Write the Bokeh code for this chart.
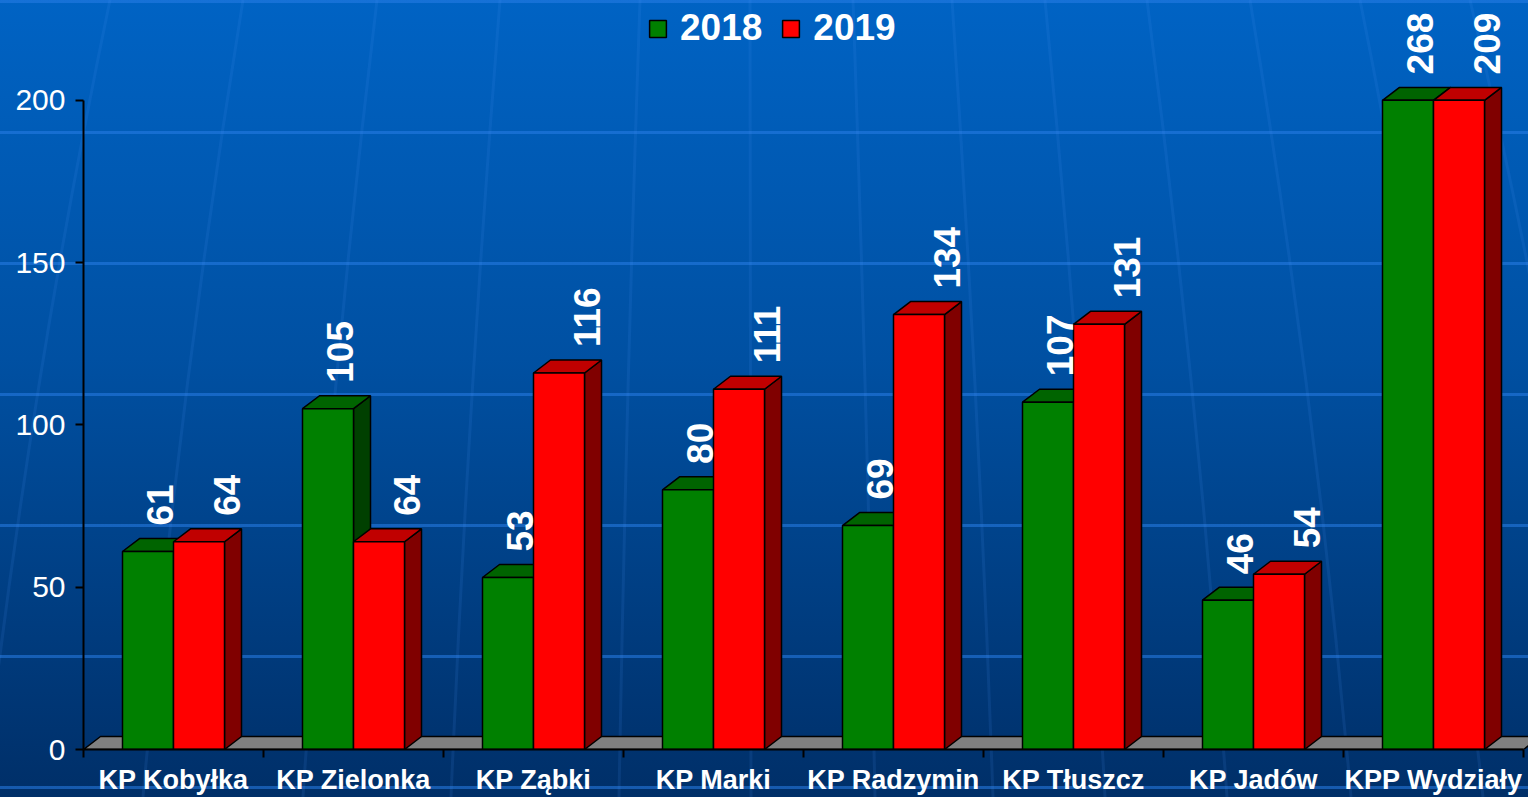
import math
from bokeh.plotting import figure
from bokeh.models import (Range1d, FixedTicker, Legend, LegendItem, ColumnDataSource,
                          GlobalInlineStyleSheet)
from bokeh.core.properties import value
from bokeh.embed import file_html
from bokeh.resources import INLINE

# ---------------- data ----------------
categories = ["KP Kobyłka", "KP Zielonka", "KP Ząbki", "KP Marki",
              "KP Radzymin", "KP Tłuszcz", "KP Jadów", "KPP Wydziały"]
series_names = ["2018", "2019"]
values_2018 = [61, 105, 53, 80, 69, 107, 46, 268]
values_2019 = [64, 64, 116, 111, 134, 131, 54, 209]
y_ticks = [0, 50, 100, 150, 200]
y_max = 200

# ---------------- geometry (style) ----------------
W, H = 1528, 797
LEFT, BOTTOM = 83, 47
PX_X = 180.0          # px per category
PX_Y = 3.25           # px per unit
DX = 17 / PX_X        # 3D depth offset (x, data units)
DY = 13 / PX_Y        # 3D depth offset (y, data units)
BAR_W = 51 / PX_X
G_OFF = 39 / PX_X     # green bar left offset inside category
n = len(categories)

FONT = "Liberation Sans"

p = figure(width=W, height=H, output_backend="svg", toolbar_location=None,
           x_range=Range1d(0, (W - LEFT) / PX_X), y_range=Range1d(0, (H - BOTTOM) / PX_Y),
           min_border_left=LEFT, min_border_right=0, min_border_top=0, min_border_bottom=BOTTOM,
           background_fill_alpha=0, border_fill_alpha=0, outline_line_color=None)
p.grid.visible = False

# decorative slide background (template meridian lines)
mer_top = [110, 243, 377, 500, 640, 750, 853, 952, 1045, 1147, 1250, 1360, 1470]
paths = []
for xt in mer_top:
    xb = xt + 0.2 * (xt - 745)
    xm = (xt + xb) / 2 + 0.03 * (xt - 745)
    paths.append(f"<path d='M{xt},0 Q{xm:.0f},400 {xb:.0f},797' "
                 f"stroke='rgba(70,150,245,0.12)' stroke-width='3' fill='none'/>")
svg_bg = ("<svg xmlns='http://www.w3.org/2000/svg' width='1528' height='797'>"
          + "".join(paths) + "</svg>")

css = """
html {
  min-height: 100%;
  background:
    url("data:image/svg+xml;utf8,""" + svg_bg + """") no-repeat 0 0,
    repeating-linear-gradient(to bottom, rgba(40,125,230,0.55) 0px, rgba(40,125,230,0.55) 3px,
                              transparent 3px, transparent 131px),
    linear-gradient(to bottom, #0063C4 0%, #0050A2 45%, #002F68 100%);
}
body { background: transparent; }
"""
p.stylesheets = [GlobalInlineStyleSheet(css=css)]

# floor
fx0, fx1 = 0, n
p.patch([fx0, fx1, fx1 + DX, fx0 + DX], [0, 0, DY, DY],
        fill_color="#808080", line_color="black", line_width=1.5)

def bar_faces(vals, off):
    disp = [min(v, y_max) for v in vals]
    lefts = [i + off for i in range(n)]
    rights = [l + BAR_W for l in lefts]
    side_xs = [[r, r + DX, r + DX, r] for r in rights]
    side_ys = [[0, DY, d + DY, d] for d in disp]
    top_xs = [[l, r, r + DX, l + DX] for l, r in zip(lefts, rights)]
    top_ys = [[d, d, d + DY, d + DY] for d in disp]
    return disp, lefts, rights, side_xs, side_ys, top_xs, top_ys

renderers = []
for vals, off, front, top, side in [
        (values_2018, G_OFF, "#008000", "#006400", "#004000"),
        (values_2019, G_OFF + BAR_W, "#FF0000", "#C00000", "#800000")]:
    disp, lefts, rights, sx, sy, tx, ty = bar_faces(vals, off)
    p.patches(sx, sy, fill_color=side, line_color="black", line_width=1.5)
    p.patches(tx, ty, fill_color=top, line_color="black", line_width=1.5)
    r = p.quad(left=lefts, right=rights, bottom=0, top=disp,
               fill_color=front, line_color="black", line_width=1.5)
    renderers.append(r)

# value labels
for vals, xoff in [(values_2018, 76 / PX_X), (values_2019, 143 / PX_X)]:
    src = ColumnDataSource(dict(
        x=[i + xoff for i in range(n)],
        y=[min(v, y_max) + 8 for v in vals],
        t=[str(v) for v in vals]))
    p.text(x="x", y="y", text="t", source=src, angle=math.pi / 2,
           text_align="left", text_baseline="middle",
           text_font=value(FONT), text_font_style="bold",
           text_font_size="37px", text_color="white")

# axes
ya = p.yaxis[0]
ya.ticker = FixedTicker(ticks=y_ticks)
ya.bounds = (0, y_max)
ya.axis_line_color = "black"
ya.axis_line_width = 2
ya.major_tick_line_color = "black"
ya.major_tick_line_width = 2
ya.major_tick_out = 8
ya.major_tick_in = 0
ya.minor_tick_line_color = None
ya.major_label_text_font = FONT
ya.major_label_text_font_size = "30px"
ya.major_label_text_color = "white"
ya.major_label_standoff = 10

xa = p.xaxis[0]
centers = [i + 0.5 for i in range(n)]
xa.ticker = FixedTicker(ticks=centers, minor_ticks=list(range(n + 1)))
xa.major_label_overrides = {c: name for c, name in zip(centers, categories)}
xa.bounds = (0, n)
xa.axis_line_color = "black"
xa.axis_line_width = 2
xa.major_tick_line_color = None
xa.major_tick_out = 0
xa.major_tick_in = 0
xa.minor_tick_line_color = "black"
xa.minor_tick_line_width = 2
xa.minor_tick_out = 8
xa.minor_tick_in = 0
xa.major_label_text_font = FONT
xa.major_label_text_font_style = "bold"
xa.major_label_text_font_size = "27px"
xa.major_label_text_color = "white"
xa.major_label_standoff = 7

legend = Legend(items=[LegendItem(label=series_names[0], renderers=[renderers[0]]),
                       LegendItem(label=series_names[1], renderers=[renderers[1]])],
                orientation="horizontal", location=(564, 700),
                background_fill_alpha=0, border_line_alpha=0,
                padding=0, margin=0, spacing=18, label_standoff=12,
                glyph_width=21, glyph_height=21,
                label_text_font=FONT, label_text_font_style="bold",
                label_text_font_size="37px", label_text_color="white")
p.add_layout(legend, "center")

open("out.html", "w").write(file_html(p, INLINE))
